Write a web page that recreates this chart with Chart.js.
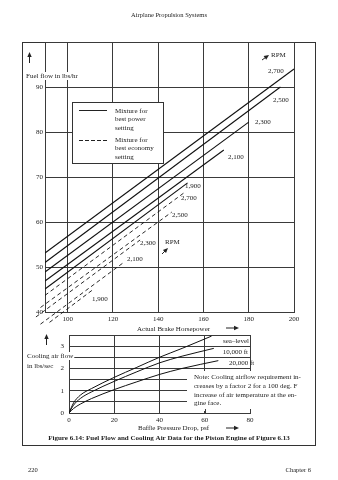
<!DOCTYPE html>
<html>
<head>
<meta charset="utf-8">
<script src="https://cdn.jsdelivr.net/npm/chart.js@4.4.0/dist/chart.umd.min.js"></script>
<style>
  body { margin: 0; width: 338px; height: 480px; background: #fff; position: relative; overflow: hidden; }
  #frame { position: absolute; left: 22px; top: 42px; width: 292px; height: 402px; border: 1px solid #333; }
  canvas { position: absolute; left: 0; top: 0; }
</style>
</head>
<body>
<div id="frame"></div>
<canvas id="fuel" width="338" height="480"></canvas>
<canvas id="cool" width="338" height="480"></canvas>
<script>
// fuel flow vs brake horsepower
const HP_TICKS = [90, 100, 120, 140, 160, 180, 200];
const FUEL_TICKS = [40, 50, 60, 70, 80, 90, 100];
const RPM = ['1,900', '2,100', '2,300', '2,500', '2,700'];
// each line: [start, end]
const POWER_HP = [[90, 153], [90, 169], [90, 180], [90, 194], [90, 200]];
const POWER_FUEL = [[45.1, 68.7], [46.9, 76.0], [48.9, 82.2], [51.0, 90.0], [53.1, 94.0]];
const ECONOMY_HP = [[92, 111], [88, 125], [86, 132], [88, 146], [90, 152]];
const ECONOMY_FUEL = [[37.7, 44.9], [37.3, 51.1], [38.9, 56.0], [41.0, 62.2], [43.7, 66.7]];

// cooling air flow vs baffle pressure drop
const PSF_TICKS = [0, 20, 40, 60, 80];
const AIR_TICKS = [0, 0.5, 1, 1.5, 2, 2.5, 3, 3.5];
const ALTITUDES = ['sea\u2013level', '10,000 ft', '20,000 ft'];
const AIR_PSF = [
  [0, 2, 5, 10, 20, 30, 40, 50, 63],
  [0, 2, 5, 10, 20, 30, 40, 50, 64],
  [0, 2, 5, 10, 20, 30, 40, 50, 66]
];
const AIR_FLOW = [
  [0, 0.45, 0.8, 1.1, 1.6, 2.05, 2.5, 2.9, 3.45],
  [0, 0.35, 0.65, 0.95, 1.42, 1.85, 2.25, 2.55, 2.9],
  [0, 0.2, 0.4, 0.65, 1.05, 1.4, 1.73, 2.0, 2.35]
];

const INK = '#222';
const GRID = '#3a3a3a';
const FONT = { family: 'Liberation Serif', size: 7 };

function pts(xs, ys) { return xs.map((x, k) => ({ x: x, y: ys[k] })); }

function txt(ctx, s, x, y, align) {
  ctx.textAlign = align || 'left';
  ctx.fillText(s, x, y);
}

// text on a white patch, hiding the grid under it
function boxed(ctx, s, x, y) {
  const w = ctx.measureText(s).width;
  ctx.fillStyle = '#fff';
  ctx.fillRect(x - 1, y - 4, w + 2, 8);
  ctx.fillStyle = INK;
  txt(ctx, s, x, y);
}

function arrow(ctx, x1, y1, x2, y2) {
  const a = Math.atan2(y2 - y1, x2 - x1);
  const c = Math.cos(a), s = Math.sin(a);
  ctx.beginPath(); ctx.moveTo(x1, y1); ctx.lineTo(x2 - 3 * c, y2 - 3 * s); ctx.stroke();
  ctx.beginPath();
  ctx.moveTo(x2, y2);
  ctx.lineTo(x2 - 5 * c + 2.2 * s, y2 - 5 * s - 2.2 * c);
  ctx.lineTo(x2 - 5 * c - 2.2 * s, y2 - 5 * s + 2.2 * c);
  ctx.closePath(); ctx.fill();
}

function setup(ctx) {
  ctx.save();
  ctx.font = '7px "Liberation Serif"';
  ctx.fillStyle = INK; ctx.strokeStyle = INK;
  ctx.lineWidth = 1; ctx.textBaseline = 'middle';
}

const fuelSets = [];
RPM.forEach((r, i) => {
  fuelSets.push({ label: r, data: pts(POWER_HP[i], POWER_FUEL[i]),
    borderColor: '#111', borderWidth: 1.1, pointRadius: 0 });
  fuelSets.push({ label: r, data: pts(ECONOMY_HP[i], ECONOMY_FUEL[i]),
    borderColor: '#111', borderWidth: 0.9, borderDash: [4, 3], pointRadius: 0, clip: false });
});

const fuelNotes = {
  id: 'fuelNotes',
  beforeDatasetsDraw(chart) {
    const ctx = chart.ctx;
    setup(ctx);
    // legend box
    ctx.fillStyle = '#fff';
    ctx.fillRect(72.5, 102.5, 91, 61);
    ctx.strokeStyle = '#333';
    ctx.strokeRect(72.5, 102.5, 91, 61);
    ctx.fillStyle = INK;
    boxed(ctx, 'Fuel flow in lbs/hr', 26, 76);
    ctx.restore();
  },
  afterDraw(chart) {
    const ctx = chart.ctx;
    setup(ctx);
    ctx.font = '6.5px "Liberation Serif"';
    txt(ctx, 'Airplane Propulsion Systems', 169, 15, 'center');
    ctx.font = '7px "Liberation Serif"';

    ctx.beginPath(); ctx.moveTo(79, 110.5); ctx.lineTo(107, 110.5); ctx.stroke();
    ctx.setLineDash([4, 2]);
    ctx.beginPath(); ctx.moveTo(79, 140.5); ctx.lineTo(107, 140.5); ctx.stroke();
    ctx.setLineDash([]);
    txt(ctx, 'Mixture for', 115, 111);
    txt(ctx, 'best power', 115, 119.5);
    txt(ctx, 'setting', 115, 128);
    txt(ctx, 'Mixture for', 115, 140);
    txt(ctx, 'best economy', 115, 148.5);
    txt(ctx, 'setting', 115, 157);

    arrow(ctx, 29.5, 63, 29.5, 52);

    // rpm labels, best power
    txt(ctx, 'RPM', 271, 55);
    arrow(ctx, 262, 60, 269, 55);
    txt(ctx, '2,700', 268, 71);
    txt(ctx, '2,500', 273, 100);
    txt(ctx, '2,300', 255, 122);
    txt(ctx, '2,100', 228, 157);
    txt(ctx, '1,900', 185, 186);
    // rpm labels, best economy
    txt(ctx, '2,700', 181, 198.5);
    txt(ctx, '2,500', 172, 215);
    txt(ctx, 'RPM', 165, 242);
    arrow(ctx, 162, 254, 168, 248);
    txt(ctx, '2,300', 140, 243);
    txt(ctx, '2,100', 127, 259);
    txt(ctx, '1,900', 92, 299);

    txt(ctx, 'Actual Brake Horsepower', 137, 329);
    arrow(ctx, 226, 328, 239, 328);
    ctx.restore();
  }
};

new Chart(document.getElementById('fuel'), {
  type: 'line',
  data: { datasets: fuelSets },
  options: {
    responsive: false, animation: false,
    layout: { padding: { left: 20, right: 44, top: 42, bottom: 154 } },
    plugins: { legend: { display: false }, tooltip: { enabled: false } },
    scales: {
      x: {
        type: 'linear', min: 90, max: 200,
        afterBuildTicks: s => { s.ticks = HP_TICKS.map(v => ({ value: v })); },
        afterFit: s => { s.height = 14; },
        ticks: { callback: v => v === 90 ? '' : v, font: FONT, color: INK, padding: 2.5,
                 maxRotation: 0, autoSkip: false },
        grid: { color: GRID, lineWidth: 1, drawTicks: false },
        border: { color: GRID }
      },
      y: {
        type: 'linear', min: 40, max: 100,
        afterBuildTicks: s => { s.ticks = FUEL_TICKS.map(v => ({ value: v })); },
        afterFit: s => { s.width = 25; },
        ticks: { callback: v => v === 100 ? '' : v, font: FONT, color: INK, padding: 2, autoSkip: false },
        grid: { color: GRID, lineWidth: 1, drawTicks: false },
        border: { color: GRID }
      }
    }
  },
  plugins: [fuelNotes]
});

const coolNotes = {
  id: 'coolNotes',
  beforeDatasetsDraw(chart) {
    const ctx = chart.ctx;
    setup(ctx);
    // note panel covers the lower right of the grid
    ctx.fillStyle = '#fff';
    ctx.fillRect(187, 371, 120, 40);
    ctx.strokeStyle = GRID;
    const xs = chart.scales.x;
    [60, 80].forEach(v => {
      const px = Math.round(xs.getPixelForValue(v)) + 0.5;
      ctx.beginPath(); ctx.moveTo(px, 413); ctx.lineTo(px, 409); ctx.stroke();
    });
    ctx.fillStyle = INK;
    boxed(ctx, 'Cooling air flow', 27, 356);
    boxed(ctx, 'in lbs/sec', 27, 366);
    ctx.restore();
  },
  afterDraw(chart) {
    const ctx = chart.ctx;
    setup(ctx);
    txt(ctx, ALTITUDES[0], 249, 341, 'right');
    txt(ctx, ALTITUDES[1], 248, 352.5, 'right');
    txt(ctx, ALTITUDES[2], 229, 363.5);

    arrow(ctx, 46.5, 345, 46.5, 334);

    txt(ctx, 'Note: Cooling airflow requirement in-', 194, 377);
    txt(ctx, 'creases by a factor 2 for a 100 deg. F', 194, 386.5);
    txt(ctx, 'increase of air temperature at the en-', 194, 395);
    txt(ctx, 'gine face.', 194, 403.5);

    txt(ctx, 'Baffle Pressure Drop, psf', 138, 428.5);
    arrow(ctx, 226, 428, 239, 428);

    ctx.font = 'bold 7px "Liberation Serif"';
    txt(ctx, 'Figure 6.14: Fuel Flow and Cooling Air Data for the Piston Engine of Figure 6.13', 169, 438, 'center');
    ctx.font = '6.5px "Liberation Serif"';
    txt(ctx, '220', 28, 470);
    txt(ctx, 'Chapter 6', 311, 470, 'right');
    ctx.restore();
  }
};

new Chart(document.getElementById('cool'), {
  type: 'line',
  data: {
    datasets: ALTITUDES.map((a, i) => ({
      label: a, data: pts(AIR_PSF[i], AIR_FLOW[i]),
      borderColor: '#111', borderWidth: 1, pointRadius: 0,
      tension: 0.4, cubicInterpolationMode: 'monotone'
    }))
  },
  options: {
    responsive: false, animation: false,
    layout: { padding: { left: 57, right: 88, top: 335, bottom: 55 } },
    plugins: { legend: { display: false }, tooltip: { enabled: false } },
    scales: {
      x: {
        type: 'linear', min: 0, max: 80,
        afterBuildTicks: s => { s.ticks = PSF_TICKS.map(v => ({ value: v })); },
        afterFit: s => { s.height = 12; },
        ticks: { font: FONT, color: INK, padding: 3, maxRotation: 0, autoSkip: false },
        grid: { color: GRID, lineWidth: 1, drawTicks: false },
        border: { color: GRID }
      },
      y: {
        type: 'linear', min: 0, max: 3.5,
        afterBuildTicks: s => { s.ticks = AIR_TICKS.map(v => ({ value: v })); },
        afterFit: s => { s.width = 12; },
        ticks: { callback: v => Number.isInteger(v) ? v : '', font: FONT, color: INK, padding: 5, autoSkip: false },
        grid: { color: GRID, lineWidth: 1, drawTicks: false },
        border: { color: GRID }
      }
    }
  },
  plugins: [coolNotes]
});
</script>
</body>
</html>
